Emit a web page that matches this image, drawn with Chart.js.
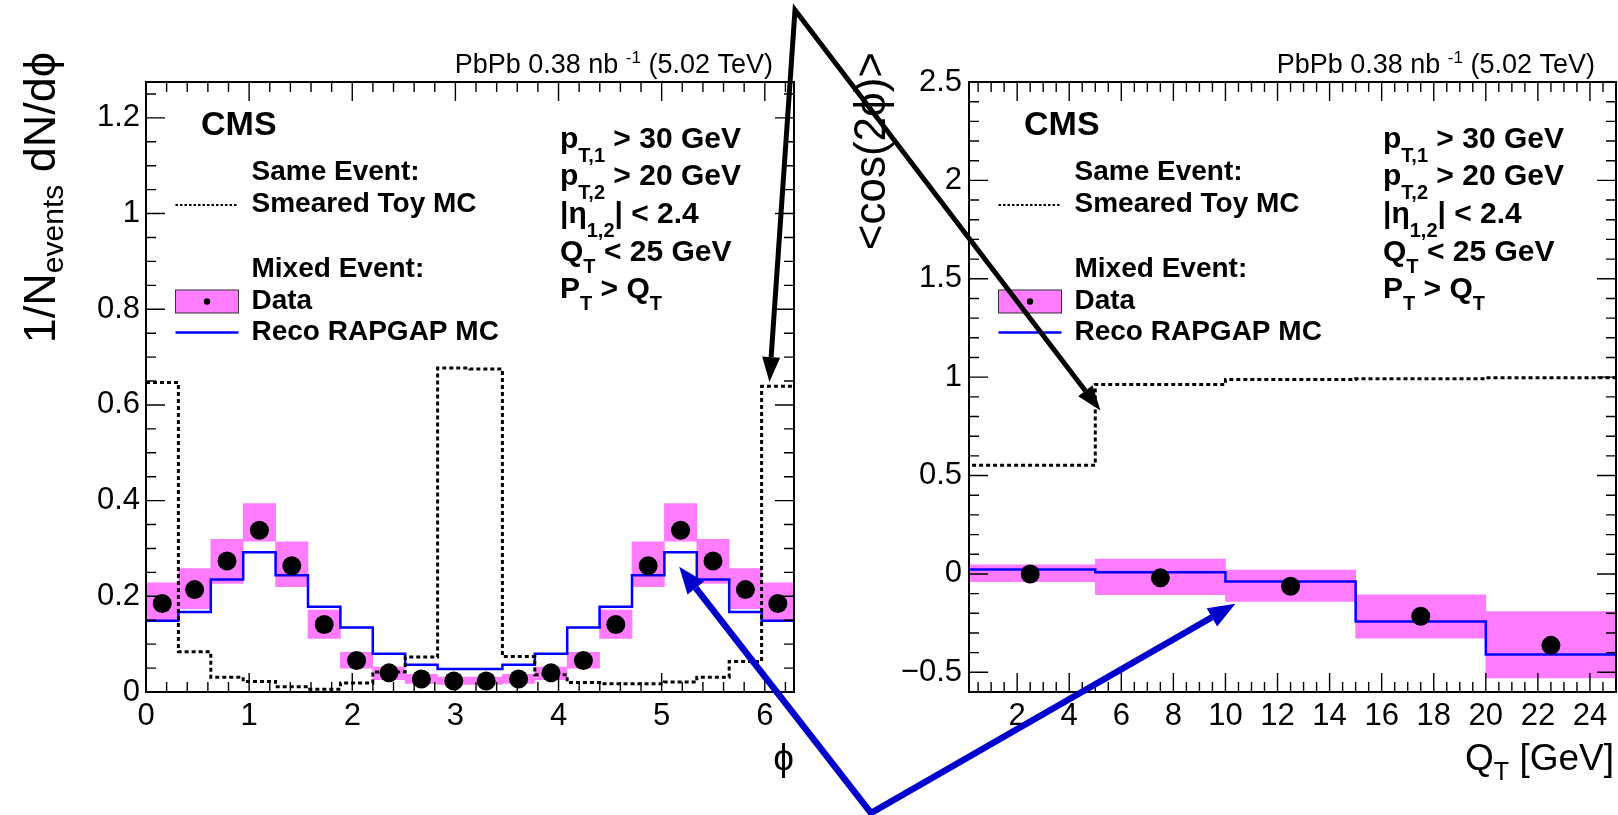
<!DOCTYPE html>
<html lang="en">

<head>
    <meta charset="UTF-8">
    <title>CMS PbPb 0.38 nb-1 | cos(2phi)</title>
    <script src="https://cdn.jsdelivr.net/npm/chart.js"></script>
    <style>
        body { margin: 0; background: #fff; }
        .painel { position: relative; width: 1618px; height: 815px; overflow: hidden; }
        .painel canvas { position: absolute; left: 0; top: 0; }
    </style>
</head>

<body>
    <div class="painel">
        <canvas id="graficoPhi" width="1618" height="815"></canvas>
        <canvas id="graficoQt" width="1618" height="815"></canvas>
    </div>

<script>
    // ---- left panel: 1/N dN/dphi, 20 bins from 0 to 2pi ----
    const phiEdges = [0, 0.3142, 0.6283, 0.9425, 1.2566, 1.5708, 1.8850, 2.1991, 2.5133, 2.8274, 3.1416,
                      3.4558, 3.7699, 4.0841, 4.3982, 4.7124, 5.0265, 5.3407, 5.6549, 5.9690, 6.2832];
    const dataPhi  = [0.185, 0.214, 0.274, 0.338, 0.264, 0.141, 0.066, 0.040, 0.027, 0.023,
                      0.023, 0.027, 0.040, 0.066, 0.141, 0.264, 0.338, 0.274, 0.214, 0.185];
    const sysLoPhi = [0.150, 0.174, 0.227, 0.315, 0.220, 0.112, 0.050, 0.026, 0.018, 0.016,
                      0.016, 0.018, 0.026, 0.050, 0.112, 0.220, 0.315, 0.227, 0.174, 0.150];
    const sysHiPhi = [0.228, 0.258, 0.319, 0.394, 0.314, 0.171, 0.083, 0.052, 0.037, 0.031,
                      0.031, 0.037, 0.052, 0.083, 0.171, 0.314, 0.394, 0.319, 0.258, 0.228];
    const recoPhi  = [0.149, 0.167, 0.235, 0.292, 0.244, 0.178, 0.135, 0.080, 0.057, 0.048,
                      0.048, 0.057, 0.080, 0.135, 0.178, 0.244, 0.292, 0.235, 0.167, 0.149];
    const toyPhi   = [0.647, 0.084, 0.031, 0.022, 0.011, 0.006, 0.019, 0.042, 0.073, 0.677,
                      0.675, 0.074, 0.036, 0.020, 0.017, 0.017, 0.021, 0.031, 0.064, 0.639];

    // ---- right panel: <cos(2phi)> vs Q_T ----
    const qtEdges = [0, 5, 10, 15, 20, 25];
    const dataQt  = [0.000, -0.020, -0.063, -0.215, -0.363];
    const sysLoQt = [-0.039, -0.106, -0.140, -0.326, -0.529];
    const sysHiQt = [0.046, 0.076, 0.020, -0.106, -0.191];
    const recoQt  = [0.022, 0.008, -0.039, -0.242, -0.409];
    const toyQt   = [0.552, 0.963, 0.988, 0.992, 0.997];

    const SANS = "'Liberation Sans', 'DejaVu Sans', Arial, sans-serif";
    const MAGENTA = '#ff7cff';

    // histogram helpers: points on bin edges for a stepped line, and bin centres
    function degraus(edges, vals) {
        const pts = vals.map((v, i) => ({ x: edges[i], y: v }));
        pts.push({ x: edges[edges.length - 1], y: vals[vals.length - 1] });
        return pts;
    }
    function centros(edges) {
        return edges.slice(1).map((e, i) => (e + edges[i]) / 2);
    }

    // text with sub/superscripts: parts = [text, size, bold, dy]
    function rich(ctx, x, y, parts, align) {
        const fonte = p => (p[2] ? 'bold ' : '') + p[1] + 'px ' + SANS;
        let w = 0;
        parts.forEach(p => { ctx.font = fonte(p); w += ctx.measureText(p[0]).width; });
        let cx = align === 'right' ? x - w : x;
        ctx.textAlign = 'left';
        ctx.textBaseline = 'alphabetic';
        parts.forEach(p => {
            ctx.font = fonte(p);
            ctx.fillText(p[0], cx, y + (p[3] || 0));
            cx += ctx.measureText(p[0]).width;
        });
    }

    // ROOT style frame: box + inward ticks on all four sides
    function marcas(ctx, a, scale, nMinor, horiz) {
        const major = scale.ticks.map(t => t.value);
        const step = (major[1] - major[0]) / nMinor;
        const first = major[0] - Math.floor((major[0] - scale.min) / step + 1e-6) * step;
        ctx.beginPath();
        for (let k = 0; ; k++) {
            const v = first + k * step;
            if (v > scale.max + 1e-6) break;
            const len = major.some(m => Math.abs(m - v) < step / 10) ? 19 : 10;
            const p = scale.getPixelForValue(v);
            if (horiz) {
                ctx.moveTo(p, a.bottom); ctx.lineTo(p, a.bottom - len);
                ctx.moveTo(p, a.top); ctx.lineTo(p, a.top + len);
            } else {
                ctx.moveTo(a.left, p); ctx.lineTo(a.left + len, p);
                ctx.moveTo(a.right, p); ctx.lineTo(a.right - len, p);
            }
        }
        ctx.stroke();
    }

    function moldura(minorX, minorY) {
        return {
            id: 'moldura',
            afterDatasetsDraw(chart) {
                const { ctx, chartArea: a } = chart;
                ctx.save();
                ctx.strokeStyle = '#000';
                ctx.lineWidth = 1.4;
                marcas(ctx, a, chart.scales.x, minorX, true);
                marcas(ctx, a, chart.scales.y, minorY, false);
                ctx.lineWidth = 2;
                ctx.strokeRect(a.left, a.top, a.right - a.left, a.bottom - a.top);
                ctx.restore();
            }
        };
    }

    function textos(yTitulo, yTituloX, xTitulo) {
        return {
            id: 'textos',
            afterDraw(chart) {
                const { ctx, chartArea: a } = chart;
                const L = a.left, R = a.right, T = a.top;
                ctx.save();
                ctx.fillStyle = '#000';

                rich(ctx, R - 21, T - 9, [['PbPb 0.38 nb ', 27], ['-1', 17, false, -10], [' (5.02 TeV)', 27]], 'right');
                rich(ctx, L + 55, T + 53, [['CMS', 34, true]]);

                // legend
                const lx = L + 105.5, s0 = L + 29.5, s1 = L + 92.5;
                [['Same Event:', 98], ['Smeared Toy MC', 130], ['Mixed Event:', 195],
                 ['Data', 226.5], ['Reco RAPGAP MC', 258]].forEach(([t, dy]) => rich(ctx, lx, T + dy, [[t, 28, true]]));

                ctx.strokeStyle = '#000';
                ctx.lineWidth = 2;
                ctx.setLineDash([2.5, 2]);
                ctx.beginPath(); ctx.moveTo(s0, T + 123); ctx.lineTo(s1, T + 123); ctx.stroke();
                ctx.setLineDash([]);
                ctx.fillStyle = MAGENTA;
                ctx.fillRect(s0, T + 208, s1 - s0, 23);
                ctx.strokeStyle = '#333';
                ctx.lineWidth = 1;
                ctx.strokeRect(s0, T + 208, s1 - s0, 23);
                ctx.fillStyle = '#000';
                ctx.beginPath(); ctx.arc((s0 + s1) / 2, T + 219.5, 3.2, 0, 2 * Math.PI); ctx.fill();
                ctx.strokeStyle = '#0000ff';
                ctx.lineWidth = 2.5;
                ctx.beginPath(); ctx.moveTo(s0, T + 250.5); ctx.lineTo(s1, T + 250.5); ctx.stroke();

                // selection cuts
                const cx = L + 414;
                rich(ctx, cx, T + 66, [['p', 30, true], ['T,1', 20, true, 14], [' > 30 GeV', 30, true]]);
                rich(ctx, cx, T + 103, [['p', 30, true], ['T,2', 20, true, 14], [' > 20 GeV', 30, true]]);
                rich(ctx, cx, T + 141, [['|η', 30, true], ['1,2', 20, true, 14], ['| < 2.4', 30, true]]);
                rich(ctx, cx, T + 179, [['Q', 30, true], ['T', 20, true, 12], [' < 25 GeV', 30, true]]);
                rich(ctx, cx, T + 216, [['P', 30, true], ['T', 20, true, 12], [' > Q', 30, true], ['T', 20, true, 12]]);

                // axis titles
                ctx.save();
                ctx.translate(yTituloX, T - 30);
                ctx.rotate(-Math.PI / 2);
                rich(ctx, 0, 0, yTitulo, 'right');
                ctx.restore();
                rich(ctx, R - xTitulo.recuo, a.bottom + 78, xTitulo.partes, 'right');
                ctx.restore();
            }
        };
    }

    function histograma(id, edges, d, eixos, plugins) {
        const mid = centros(edges);
        return new Chart(document.getElementById(id), {
            type: 'bar',
            data: {
                datasets: [
                    {
                        type: 'scatter', label: 'Data',
                        data: mid.map((x, i) => ({ x, y: d.data[i] })),
                        backgroundColor: '#000', borderWidth: 0, pointRadius: 9.5, order: 0
                    },
                    {
                        type: 'line', label: 'Smeared Toy MC',
                        data: degraus(edges, d.toy), stepped: 'before',
                        borderColor: '#000', borderWidth: 3, borderDash: [4, 3],
                        pointRadius: 0, fill: false, order: 1
                    },
                    {
                        type: 'line', label: 'Reco RAPGAP MC',
                        data: degraus(edges, d.reco), stepped: 'before',
                        borderColor: '#0000ff', borderWidth: 2.5,
                        pointRadius: 0, fill: false, order: 2
                    },
                    {
                        type: 'bar', label: 'Syst',
                        data: mid.map((x, i) => ({ x, y: [d.lo[i], d.hi[i]] })),
                        backgroundColor: MAGENTA, borderWidth: 0,
                        barThickness: 'flex', categoryPercentage: 1, barPercentage: 1, order: 3
                    }
                ]
            },
            options: {
                responsive: false,
                animation: false,
                events: [],
                layout: { padding: eixos.padding, autoPadding: false },
                plugins: { legend: { display: false }, tooltip: { enabled: false } },
                scales: {
                    x: {
                        type: 'linear', min: eixos.xMin, max: eixos.xMax, offset: false,
                        grid: { display: false, drawTicks: false }, border: { display: false },
                        ticks: {
                            stepSize: eixos.xStep, includeBounds: false, autoSkip: false, maxRotation: 0,
                            color: '#000', padding: 6, font: { family: SANS, size: 31 }
                        },
                        afterFit: s => { s.height = 123; }
                    },
                    y: {
                        type: 'linear', min: eixos.yMin, max: eixos.yMax,
                        grid: { display: false, drawTicks: false }, border: { display: false },
                        ticks: {
                            stepSize: eixos.yStep, includeBounds: false, autoSkip: false,
                            color: '#000', padding: eixos.yPad, font: { family: SANS, size: 31 },
                            callback: v => String(Math.round(v * 100) / 100).replace('-', '\u2212')
                        },
                        afterFit: s => { s.width = eixos.yWidth; }
                    }
                }
            },
            plugins: plugins
        });
    }

    const graficoPhi = histograma('graficoPhi', phiEdges,
        { data: dataPhi, lo: sysLoPhi, hi: sysHiPhi, reco: recoPhi, toy: toyPhi },
        { padding: { left: 0, right: 824, top: 82, bottom: 0 }, yWidth: 146, yPad: 6,
          xMin: 0, xMax: 6.2832, xStep: 1, yMin: 0, yMax: 1.275, yStep: 0.2 },
        [moldura(5, 4), textos([['1/N', 45], ['events', 30, false, 8], [' dN/d', 45], ['\u03d5', 45]], 55,
                               { recuo: 0, partes: [['\u03d5', 37]] })]);

    // arrows pointing at features of both panels (tips given in data coordinates)
    function seta(ctx, apice, tips, cor, largura, cabeca, abertura) {
        const bases = tips.map(t => {
            const ang = Math.atan2(t.y - apice.y, t.x - apice.x);
            return { ang, x: t.x - cabeca * Math.cos(ang), y: t.y - cabeca * Math.sin(ang) };
        });
        ctx.strokeStyle = cor;
        ctx.fillStyle = cor;
        ctx.lineWidth = largura;
        ctx.lineJoin = 'miter';
        ctx.beginPath();
        ctx.moveTo(bases[0].x, bases[0].y);
        ctx.lineTo(apice.x, apice.y);
        ctx.lineTo(bases[1].x, bases[1].y);
        ctx.stroke();
        tips.forEach((t, i) => {
            const b = bases[i], s = Math.sin(b.ang), c = Math.cos(b.ang);
            ctx.beginPath();
            ctx.moveTo(t.x, t.y);
            ctx.lineTo(b.x + abertura / 2 * s, b.y - abertura / 2 * c);
            ctx.lineTo(b.x - abertura / 2 * s, b.y + abertura / 2 * c);
            ctx.closePath();
            ctx.fill();
        });
    }

    const setas = {
        id: 'setas',
        afterDraw(chart) {
            const ctx = chart.ctx;
            const px = (ch, x, y) => ({ x: ch.scales.x.getPixelForValue(x), y: ch.scales.y.getPixelForValue(y) });
            ctx.save();
            seta(ctx, { x: 795, y: 10 }, [px(graficoPhi, 6.045, 0.648), px(chart, 5.2, 0.83)], '#000', 5, 25, 18);
            seta(ctx, { x: 871, y: 813 }, [px(graficoPhi, 5.17, 0.262), px(chart, 10.38, -0.152)], '#0000cc', 6.5, 27, 21);
            ctx.restore();
        }
    };

    const graficoQt = histograma('graficoQt', qtEdges,
        { data: dataQt, lo: sysLoQt, hi: sysHiQt, reco: recoQt, toy: toyQt },
        { padding: { left: 830, right: 2, top: 82, bottom: 0 }, yWidth: 139, yPad: 7,
          xMin: 0.15, xMax: 25, xStep: 2, yMin: -0.6, yMax: 2.5, yStep: 0.5 },
        [moldura(4, 5), textos([['<cos(2\u03d5)>', 44]], 885,
                               { recuo: 2, partes: [['Q', 37], ['T', 25, false, 10], [' [GeV]', 37]] }), setas]);
</script>
</body>

</html>
